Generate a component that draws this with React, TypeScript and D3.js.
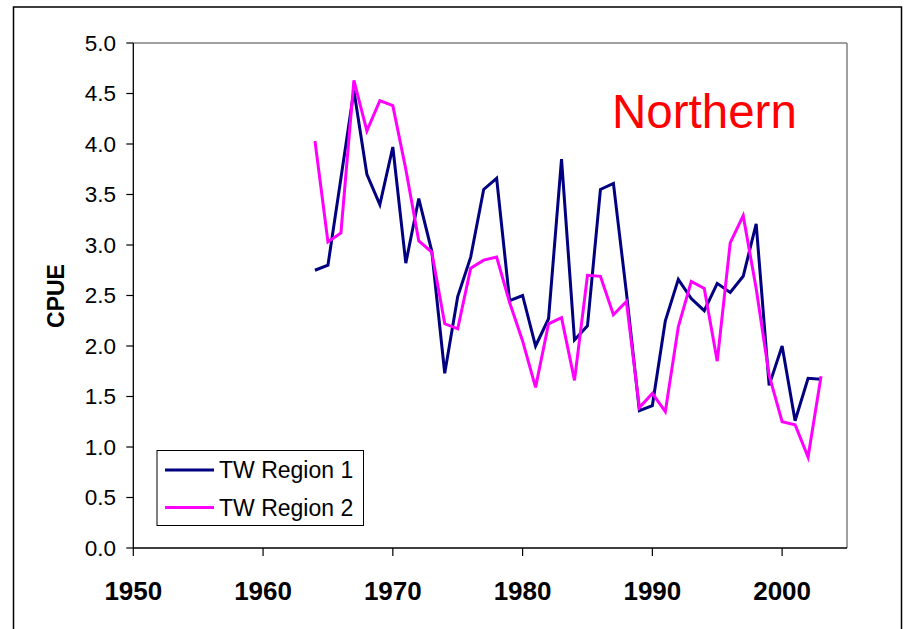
import React from "react";
import * as d3 from "d3";

const years: number[] = [
  1964, 1965, 1966, 1967, 1968, 1969, 1970, 1971, 1972, 1973,
  1974, 1975, 1976, 1977, 1978, 1979, 1980, 1981, 1982, 1983,
  1984, 1985, 1986, 1987, 1988, 1989, 1990, 1991, 1992, 1993,
  1994, 1995, 1996, 1997, 1998, 1999, 2000, 2001, 2002, 2003,
];

const region1: number[] = [
  2.75, 2.8, 3.66, 4.53, 3.7, 3.4, 3.97, 2.82, 3.46, 2.94,
  1.73, 2.49, 2.88, 3.55, 3.66, 2.45, 2.5, 2.0, 2.27, 3.85,
  2.06, 2.2, 3.55, 3.61, 2.53, 1.36, 1.41, 2.25, 2.66, 2.47,
  2.35, 2.62, 2.53, 2.69, 3.21, 1.61, 2.0, 1.26, 1.68, 1.67,
];

const region2: number[] = [
  4.03, 3.03, 3.12, 4.63, 4.13, 4.43, 4.38, 3.75, 3.04, 2.93,
  2.22, 2.17, 2.77, 2.85, 2.88, 2.43, 2.05, 1.59, 2.22, 2.28,
  1.66, 2.7, 2.69, 2.31, 2.44, 1.39, 1.53, 1.35, 2.19, 2.64,
  2.57, 1.85, 3.02, 3.29, 2.57, 1.71, 1.25, 1.22, 0.9, 1.7,
];

const xTicks: number[] = [1950, 1960, 1970, 1980, 1990, 2000];
const yTicks: number[] = [0, 0.5, 1, 1.5, 2, 2.5, 3, 3.5, 4, 4.5, 5];
const seriesNames: string[] = ["TW Region 1", "TW Region 2"];
const seriesColors: string[] = ["#000080", "#FF00FF"];
const titleText = "Northern";
const yLabel = "CPUE";

export default function App() {
  const W = 909;
  const H = 629;
  const left = 133.3;
  const right = 847;
  const top = 43;
  const bottom = 548;

  const x = d3.scaleLinear().domain([1950, 2005]).range([left, right]);
  const y = d3.scaleLinear().domain([0, 5]).range([bottom, top]);

  const line = d3
    .line<[number, number]>()
    .x((d) => x(d[0]))
    .y((d) => y(d[1]));

  const data = [region1, region2].map((vals) =>
    years.map((yr, i) => [yr, vals[i]] as [number, number])
  );

  const font = "'Liberation Sans', Arial, sans-serif";

  return (
    <div style={{ position: "fixed", left: 0, top: 0 }}>
      <svg width={W} height={H} style={{ display: "block", background: "#fff" }}>
        <rect x={0} y={0} width={W} height={H} fill="#fff" />
        {/* outer frame */}
        <rect x={13.5} y={7} width={888} height={640} fill="none" stroke="#000" strokeWidth={1.5} />

        {/* plot frame top/right */}
        <line x1={left} x2={right} y1={top} y2={top} stroke="#808080" strokeWidth={1.5} />
        <line x1={right} x2={right} y1={top} y2={bottom} stroke="#808080" strokeWidth={1.5} />

        {/* y axis */}
        <line x1={left} x2={left} y1={top} y2={bottom} stroke="#000" strokeWidth={1.3} />
        {yTicks.map((t) => (
          <g key={"y" + t}>
            <line x1={left - 7} x2={left} y1={y(t)} y2={y(t)} stroke="#000" strokeWidth={1.2} />
            <text
              x={116}
              y={y(t)}
              textAnchor="end"
              dominantBaseline="central"
              fontFamily={font}
              fontSize={22.5}
              fill="#000"
            >
              {t.toFixed(1)}
            </text>
          </g>
        ))}

        {/* x axis */}
        <line x1={left} x2={right} y1={bottom} y2={bottom} stroke="#000" strokeWidth={1.3} />
        {xTicks.map((t) => (
          <g key={"x" + t}>
            <line x1={x(t)} x2={x(t)} y1={bottom} y2={bottom + 8} stroke="#000" strokeWidth={1.2} />
            <text
              x={x(t)}
              y={600}
              textAnchor="middle"
              fontFamily={font}
              fontWeight="bold"
              fontSize={26}
              fill="#000"
            >
              {t}
            </text>
          </g>
        ))}

        {/* y label */}
        <text
          transform={`translate(56,296) rotate(-90)`}
          textAnchor="middle"
          dominantBaseline="central"
          fontFamily={font}
          fontWeight="bold"
          fontSize={23}
          fill="#000"
        >
          {yLabel}
        </text>

        {/* series */}
        {data.map((d, i) => (
          <path
            key={seriesNames[i]}
            d={line(d) || ""}
            fill="none"
            stroke={seriesColors[i]}
            strokeWidth={3}
            strokeLinejoin="miter"
          />
        ))}

        {/* title */}
        <text x={612} y={128} fontFamily={font} fontSize={47.5} fill="#FF0000">
          {titleText}
        </text>

        {/* legend */}
        <rect x={157} y={450.5} width={206.5} height={75} fill="#fff" stroke="#000" strokeWidth={1} />
        {seriesNames.map((name, i) => (
          <g key={"lg" + name}>
            <line
              x1={165}
              x2={214}
              y1={470 + i * 37.5}
              y2={470 + i * 37.5}
              stroke={seriesColors[i]}
              strokeWidth={3}
            />
            <text
              x={219}
              y={470 + i * 37.5}
              dominantBaseline="central"
              fontFamily={font}
              fontSize={23}
              fill="#000"
            >
              {name}
            </text>
          </g>
        ))}
      </svg>
    </div>
  );
}
